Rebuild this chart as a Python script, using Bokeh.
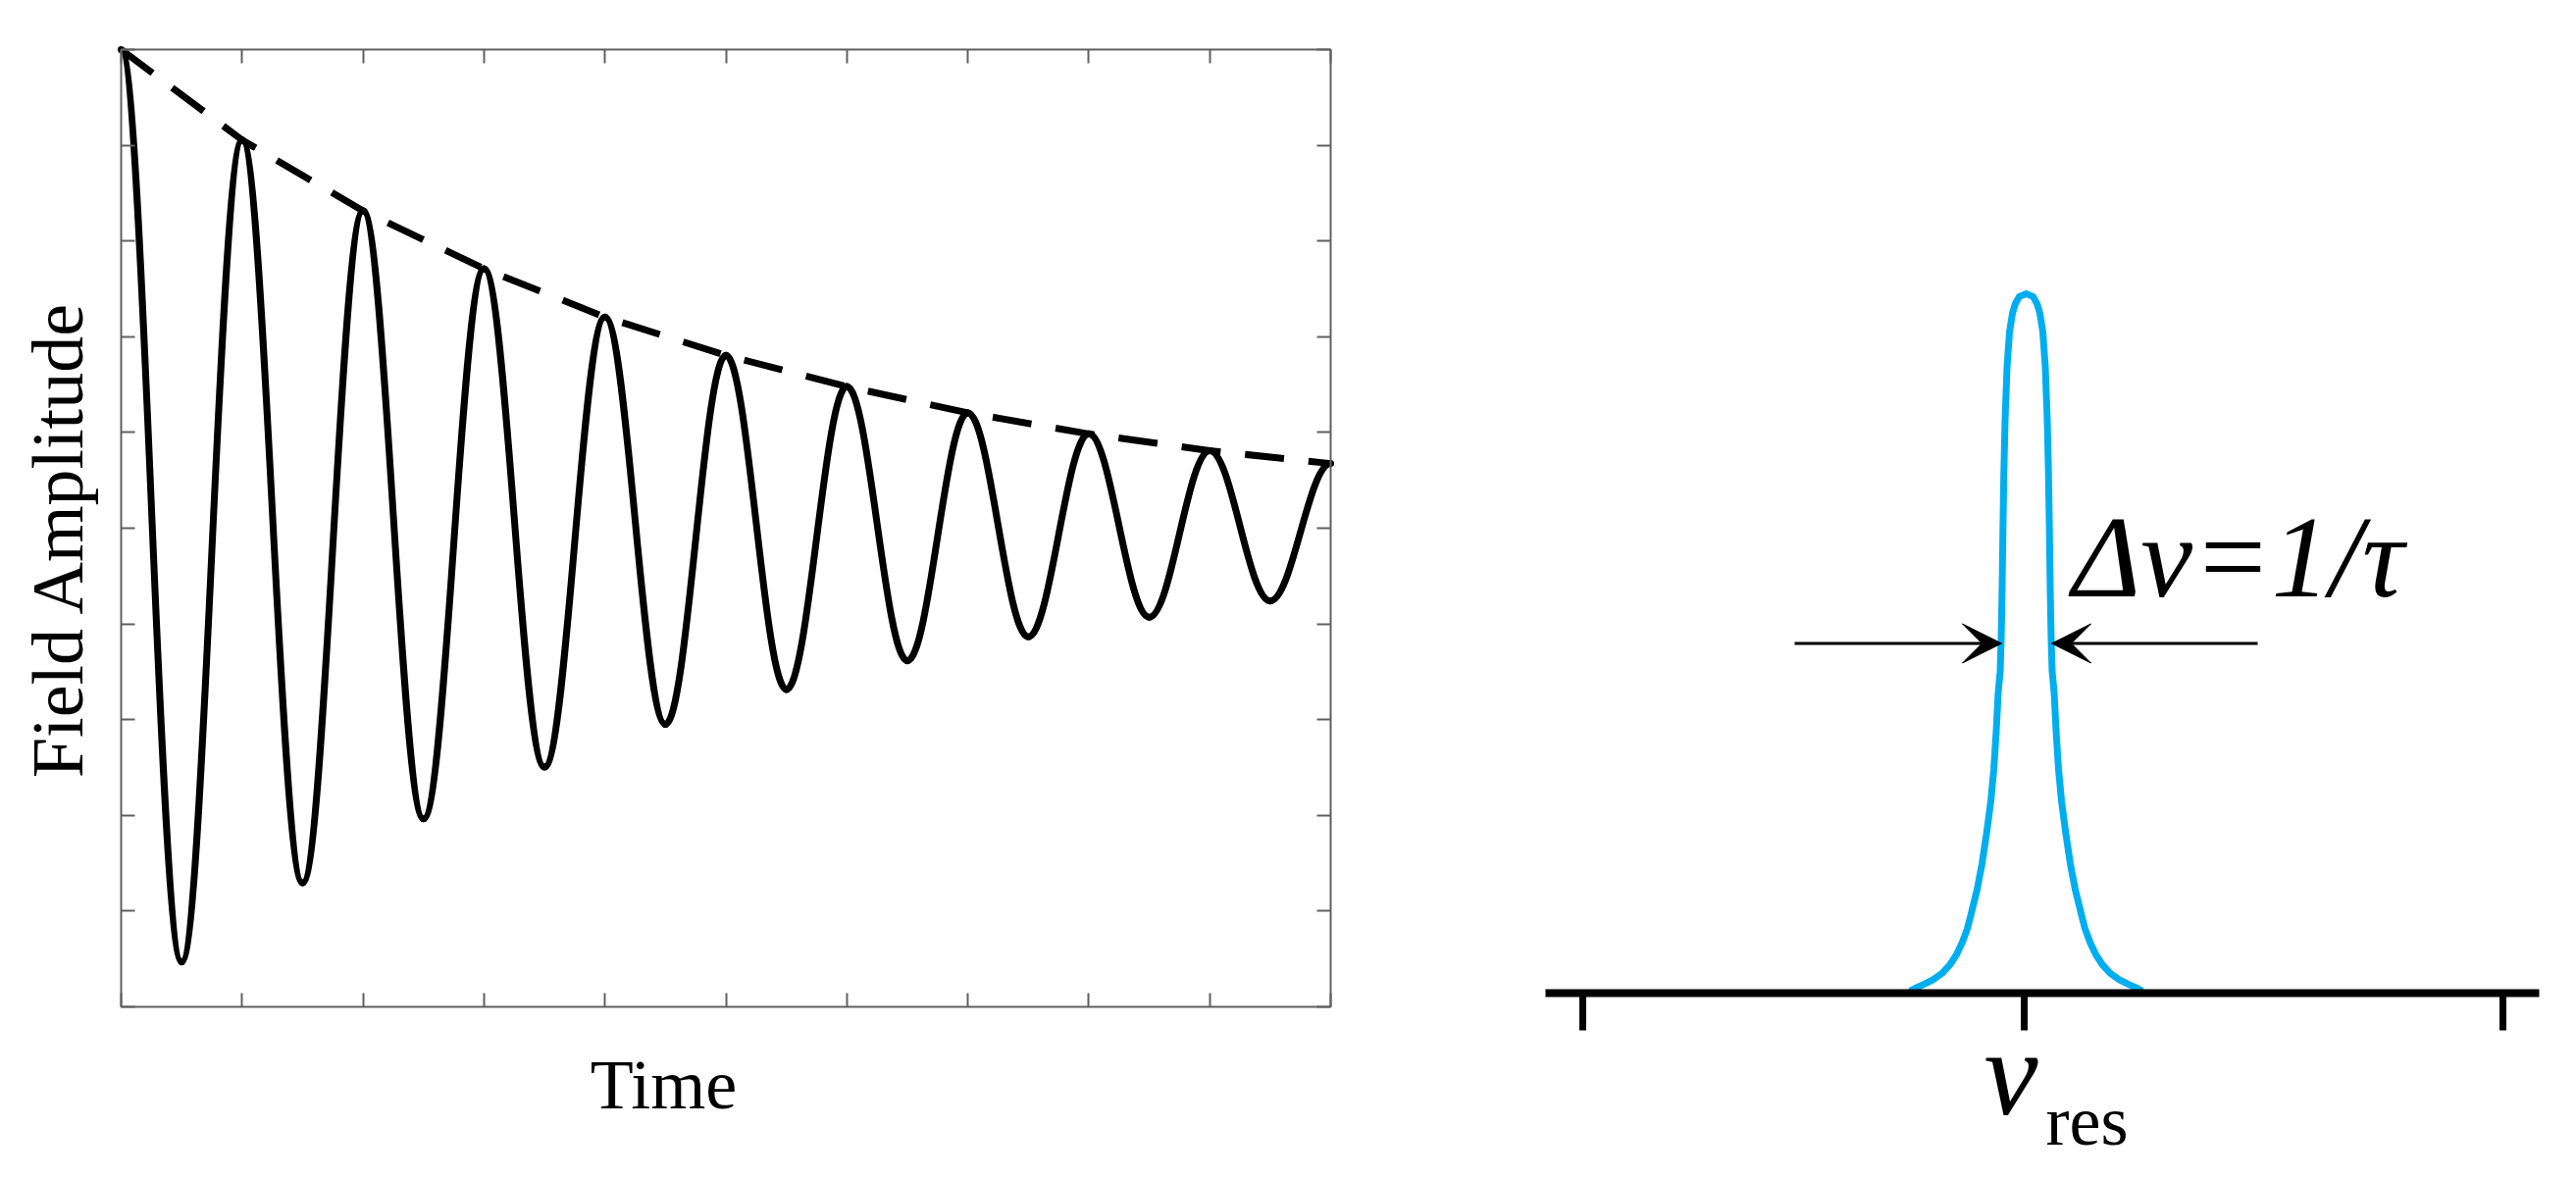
import numpy as np
from bokeh.plotting import figure
from bokeh.models import (Range1d, LinearAxis, FixedTicker, Label, Arrow,
                          VeeHead, ColumnDataSource, CustomJSTickFormatter)
from bokeh.layouts import row
from bokeh.embed import file_html
from bokeh.resources import INLINE

# ---------------- data: left panel (damped field oscillation) ----------------
time_ticks = [0, 1, 2, 3, 4, 5, 6, 7, 8, 9, 10]
amp_ticks = [-1.0, -0.8, -0.6, -0.4, -0.2, 0.0, 0.2, 0.4, 0.6, 0.8, 1.0]

# successive extrema of the field (time, amplitude)
extrema_t = [0.0, 0.5, 1.0, 1.5, 2.0, 2.5, 3.0, 3.5, 4.0, 4.5, 5.0,
             5.5, 6.0, 6.5, 7.0, 7.5, 8.0, 8.5, 9.0, 9.5, 10.0]
extrema_v = [1.000, -0.906, 0.811, -0.741, 0.663, -0.607, 0.542, -0.499,
             0.441, -0.410, 0.361, -0.337, 0.296, -0.277, 0.241, -0.227,
             0.197, -0.186, 0.162, -0.152, 0.135]

# dashed decay envelope, read at the peaks
envelope_t = [0, 1, 2, 3, 4, 5, 6, 7, 8, 9, 10]
envelope_v = [1.000, 0.811, 0.663, 0.542, 0.441, 0.361, 0.296, 0.241,
              0.197, 0.162, 0.135]

# ---------------- data: right panel (resonance line) ----------------
freq_ticks = [-4.52, -0.02, 4.86]
line_offset = [-1.183, -1.13, -1.05, -0.95, -0.86, -0.78, -0.71, -0.65,
               -0.60, -0.567, -0.50, -0.45, -0.40, -0.36, -0.33, -0.305,
               -0.285, -0.265, -0.255, -0.245, -0.237, -0.228, -0.215,
               -0.195, -0.17, -0.14, -0.11, -0.07, 0.0,
               0.07, 0.11, 0.14, 0.17, 0.195, 0.215, 0.228, 0.237, 0.245,
               0.255, 0.265, 0.285, 0.305, 0.33, 0.36, 0.40, 0.45, 0.50,
               0.567, 0.60, 0.65, 0.71, 0.78, 0.86, 0.95, 1.05, 1.13, 1.183]
line_value = [0.003, 0.007, 0.012, 0.019, 0.028, 0.040, 0.055, 0.073,
              0.092, 0.110, 0.148, 0.185, 0.232, 0.275, 0.320, 0.375,
              0.43, 0.46, 0.505, 0.58, 0.66, 0.74, 0.82,
              0.895, 0.945, 0.972, 0.986, 0.996, 1.0,
              0.996, 0.986, 0.972, 0.945, 0.895, 0.82, 0.74, 0.66, 0.58,
              0.505, 0.46, 0.43, 0.375, 0.320, 0.275, 0.232, 0.185, 0.148,
              0.110, 0.092, 0.073, 0.055, 0.040, 0.028, 0.019, 0.012, 0.007,
              0.003]

GRAY = "#606060"
SERIF = "Liberation Serif"
BLUE = "#00AEEF"
blank = CustomJSTickFormatter(code="return ''")


def style_axis(ax, ticks, color, width, tick_in, tick_out, tick_width):
    ax.ticker = FixedTicker(ticks=ticks)
    ax.formatter = blank
    ax.major_tick_in = tick_in
    ax.major_tick_out = tick_out
    ax.minor_tick_line_color = None
    ax.major_label_text_font_size = "8px"
    ax.major_label_standoff = 0
    ax.axis_line_color = color
    ax.axis_line_width = width
    ax.major_tick_line_color = color
    ax.major_tick_line_width = tick_width


# ================= left figure =================
# frame covers the whole canvas; the box is drawn by four fixed axes
p1 = figure(width=1408, height=1193, x_range=Range1d(-0.9976, 10.4217),
            y_range=Range1d(-1.3422, 1.10246), output_backend="svg",
            toolbar_location=None, min_border=0)
p1.xgrid.visible = False
p1.ygrid.visible = False
p1.outline_line_color = None

bottom = p1.xaxis[0]
left = p1.yaxis[0]
top = LinearAxis()
right = LinearAxis()
p1.add_layout(top, "above")
p1.add_layout(right, "right")
for ax, loc, ticks, bnd in [(bottom, -1, time_ticks, (0, 10)),
                            (top, 1, time_ticks, (0, 10)),
                            (left, 0, amp_ticks, (-1, 1)),
                            (right, 10, amp_ticks, (-1, 1))]:
    ax.fixed_location = loc
    ax.bounds = bnd
    style_axis(ax, ticks, GRAY, 2, 14, 0, 2)

# oscillation: each half cycle drawn as a cubic Bezier between extrema
h = 0.3634 * 0.5
t0 = np.array(extrema_t[:-1]); t1 = np.array(extrema_t[1:])
v0 = np.array(extrema_v[:-1]); v1 = np.array(extrema_v[1:])
seg = ColumnDataSource(dict(x0=t0, y0=v0, x1=t1, y1=v1,
                            cx0=t0 + h, cy0=v0, cx1=t1 - h, cy1=v1))
p1.bezier(x0="x0", y0="y0", x1="x1", y1="y1", cx0="cx0", cy0="cy0",
          cx1="cx1", cy1="cy1", source=seg, line_color="black",
          line_width=7, line_cap="round")

p1.line(envelope_t, envelope_v, line_color="black", line_width=7,
        line_dash="40 25")

p1.add_layout(Label(x=-0.527, y=-0.0225, text="Field Amplitude",
                    angle=np.pi / 2, text_font=SERIF, text_font_size="74px",
                    text_align="center", text_baseline="alphabetic",
                    text_color="black"))
p1.add_layout(Label(x=4.485, y=-1.1629, text="Time", text_font=SERIF,
                    text_font_size="72px", text_align="center",
                    text_baseline="alphabetic", text_color="black"))

# ================= right figure =================
p2 = figure(width=1202, height=1193, x_range=Range1d(-6.57, 5.45),
            y_range=Range1d(-0.2539, 1.4194), output_backend="svg",
            toolbar_location=None, min_border=0)
p2.xgrid.visible = False
p2.ygrid.visible = False
p2.yaxis.visible = False
p2.outline_line_color = None
xa = p2.xaxis[0]
xa.fixed_location = 0
xa.bounds = (-4.90, 5.23)
style_axis(xa, freq_ticks, "black", 8, 0, 38, 7)

p2.line(line_offset, line_value, line_color=BLUE, line_width=7,
        line_join="round")

head_l = VeeHead(size=40, fill_color="black", line_color="black")
head_r = VeeHead(size=40, fill_color="black", line_color="black")
p2.add_layout(Arrow(end=head_l, x_start=-2.36, y_start=0.5, x_end=-0.25,
                    y_end=0.5, line_width=3, line_color="black"))
p2.add_layout(Arrow(end=head_r, x_start=2.36, y_start=0.5, x_end=0.26,
                    y_end=0.5, line_width=3, line_color="black"))

p2.add_layout(Label(x=0.47, y=0.624, text="Δν=1/τ", text_font=SERIF,
                    text_font_style="italic", text_font_size="119px",
                    text_align="left", text_baseline="alphabetic",
                    text_color="black"))
p2.add_layout(Label(x=-0.43, y=-0.115, text="ν", text_font=SERIF,
                    text_font_style="italic", text_font_size="124px",
                    text_align="left", text_baseline="alphabetic",
                    text_color="black"))
p2.add_layout(Label(x=0.20, y=-0.183, text="res", text_font=SERIF,
                    text_font_size="72px", text_align="left",
                    text_baseline="alphabetic", text_color="black"))

layout = row(p1, p2)
open("out.html", "w").write(file_html(layout, INLINE))
